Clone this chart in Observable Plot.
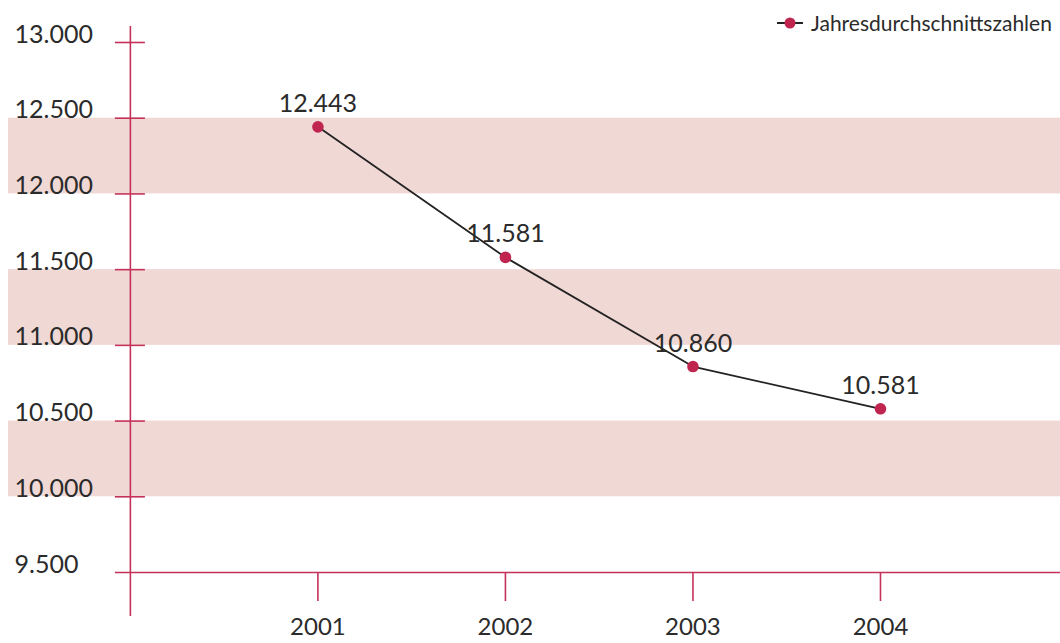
<!DOCTYPE html>
<html>
<head>
<meta charset="utf-8">
<script src="https://cdn.jsdelivr.net/npm/d3@7"></script>
<script src="https://cdn.jsdelivr.net/npm/@observablehq/plot@0.6"></script>
<style>
  html, body { margin: 0; padding: 0; background: #fff; }
  #wrap { position: relative; width: 1060px; height: 643px; overflow: hidden; }
  #legend { position: absolute; top: 10px; left: 776px; display: flex; align-items: center;
            font-family: Lato, "Open Sans", sans-serif; font-size: 21px; color: #2b2b2b; white-space: nowrap; }
  #legend svg { margin-right: 7px; }
</style>
</head>
<body>
<div id="wrap">
  <div id="legend"><svg width="28" height="12"><line x1="1" x2="27" y1="6" y2="6" stroke="#222" stroke-width="2"/><circle cx="14" cy="6" r="5.5" fill="#c0254f"/></svg><span>Jahresdurchschnittszahlen</span></div>
</div>
<script>
// ---- data ----
const years = [2001, 2002, 2003, 2004];
const values = [12443, 11581, 10860, 10581];
const yTicks = [9500, 10000, 10500, 11000, 11500, 12000, 12500, 13000];
const bandStarts = [10000, 11000, 12000];
const bandSize = 500;

const de = d3.formatLocale({decimal: ",", thousands: ".", grouping: [3], currency: ["", " €"]});
const fmt = de.format(",d");

const pink = "#c4325a";
const dotColor = "#c0254f";
const bandColor = "#f0d8d5";
const textColor = "#2b2b2b";
const font = "Lato, 'Open Sans', sans-serif";

const points = years.map((year, i) => ({year, value: values[i], label: fmt(values[i])}));
const bands = bandStarts.map(b => ({y1: b, y2: b + bandSize}));

const xDomain = [1999.35, 2004.96];
const axisX0 = 2000;
const tickHalf = 0.08;          // half length of y tick marks (years)
const yAxisTop = 13106, yAxisBottom = 9209;
const xTickBottom = 9308;

const chart = Plot.plot({
  width: 1060,
  height: 643,
  marginTop: 42,
  marginBottom: 71,
  marginLeft: 8,
  marginRight: 0,
  style: {fontFamily: font, color: textColor, background: "transparent", overflow: "visible"},
  x: {type: "linear", domain: xDomain, axis: null},
  y: {domain: [9500, 13000], axis: null},
  marks: [
    Plot.rectY(bands, {x1: xDomain[0], x2: xDomain[1], y1: "y1", y2: "y2", fill: bandColor}),
    // y axis line
    Plot.ruleX([axisX0], {y1: yAxisBottom, y2: yAxisTop, stroke: pink, strokeWidth: 1.6}),
    // y tick marks
    Plot.ruleY(yTicks.filter(t => t !== 9500), {x1: axisX0 - tickHalf, x2: axisX0 + tickHalf, stroke: pink, strokeWidth: 1.6}),
    // x axis line
    Plot.ruleY([9500], {x1: axisX0 - tickHalf, x2: xDomain[1], stroke: pink, strokeWidth: 1.6}),
    // x ticks
    Plot.ruleX(years, {y1: 9500, y2: xTickBottom, stroke: pink, strokeWidth: 1.6}),
    // y labels
    Plot.text(yTicks, {y: d => d, text: d => fmt(d), frameAnchor: "left", textAnchor: "start", dx: 6, lineAnchor: "bottom", dy: 0, fontSize: 25, fill: textColor}),
    // x labels
    Plot.text(years, {x: d => d, y: 9500, text: d => String(d), lineAnchor: "bottom", dy: 62, fontSize: 24, fill: textColor}),
    // line
    Plot.line(points, {x: "year", y: "value", stroke: "#222", strokeWidth: 1.8}),
    Plot.dot(points, {x: "year", y: "value", r: 5.8, fill: dotColor}),
    Plot.text(points, {x: "year", y: "value", text: "label", lineAnchor: "bottom", dy: -15, fontSize: 25, fill: textColor})
  ]
});
document.getElementById("wrap").prepend(chart);
</script>
</body>
</html>
